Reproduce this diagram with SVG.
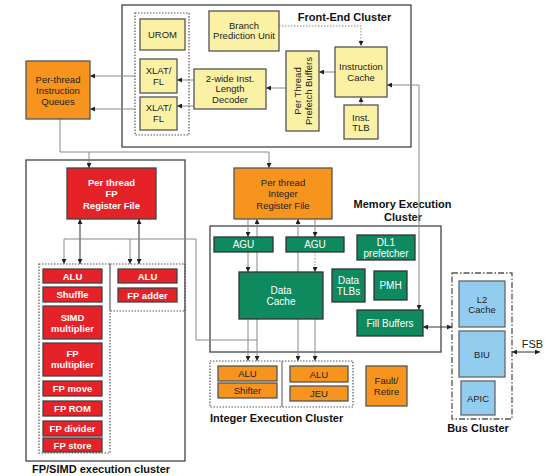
<svg xmlns="http://www.w3.org/2000/svg" width="550" height="476" viewBox="0 0 550 476">
<defs>
<marker id="ah" viewBox="0 0 6 6" refX="6" refY="3" markerWidth="5" markerHeight="5" markerUnits="userSpaceOnUse" orient="auto-start-reverse"><path d="M0,0 L6,3 L0,6 z" fill="#222"/></marker>
</defs>
<style>
text{font-family:"Liberation Sans",Arial,sans-serif;font-size:9.5px;text-anchor:middle;fill:#222}
.lbl{font-weight:bold;font-size:11px;fill:#111}
.y{fill:#faf1a5;stroke:#555;stroke-width:1.3}
.o{fill:#f7941d;stroke:#555;stroke-width:1.3}
.r{fill:#e62229;stroke:#444;stroke-width:1.3}
.g{fill:#0f8a5f;stroke:#333;stroke-width:1.3}
.b{fill:#92cdef;stroke:#666;stroke-width:1.3}
.wb{fill:#fff;font-weight:bold}
.w{fill:#fff;font-size:10px}
.frame{fill:none;stroke:#444;stroke-width:1.3}
.dot{fill:none;stroke:#555;stroke-width:1.2;stroke-dasharray:1.5,1.5}
.c{fill:none;stroke:#888;stroke-width:1}
.cd{fill:none;stroke:#333;stroke-width:1}
</style>

<g id="frames">
<rect class="frame" x="122" y="5" width="289" height="142"/>
<rect class="dot" x="135" y="13" width="54" height="122"/>
<rect class="frame" x="26" y="160" width="159" height="301" fill="#fff"/>
<rect class="frame" x="210" y="226" width="231" height="126"/>
<rect class="dot" x="39" y="264" width="71" height="189"/>
<rect class="dot" x="110" y="264" width="75" height="47"/>
<rect class="dot" x="210" y="361" width="143" height="46"/>
<line x1="282" y1="361" x2="282" y2="407" stroke="#555" stroke-width="1"/>
<rect x="452" y="273" width="60" height="146" fill="none" stroke="#555" stroke-width="1.3" stroke-dasharray="6,2,1.5,2"/>
<text class="lbl" x="344.5" y="21">Front-End Cluster</text>
<text class="lbl" x="402.5" y="208">Memory Execution</text>
<text class="lbl" x="403" y="221">Cluster</text>
<text class="lbl" x="210" y="422" style="text-anchor:start">Integer Execution Cluster</text>
<text class="lbl" x="32" y="473" style="text-anchor:start">FP/SIMD execution cluster</text>
<text class="lbl" x="478" y="432">Bus Cluster</text>
<text x="532.5" y="348" style="font-size:11px">FSB</text>
</g>

<g id="connectors">
<path class="c" d="M279,26 L361,26 L361,46" stroke-dasharray="1.5,1.5" marker-end="url(#ah)"/>
<path class="c" d="M361,105 L361,97" marker-end="url(#ah)"/>
<path class="c" d="M335,72 L319,72" marker-end="url(#ah)"/>
<path class="c" d="M286,88 L266,88" marker-end="url(#ah)"/>
<path class="c" d="M194,80 L177,80" marker-end="url(#ah)"/>
<path class="c" d="M194,106 L177,106" marker-end="url(#ah)"/>
<path class="c" d="M135,76 L90,76" marker-end="url(#ah)"/>
<path class="c" d="M135,109 L90,109" marker-end="url(#ah)"/>
<path class="c" d="M419,310 L419,85 L387,85" marker-start="url(#ah)" marker-end="url(#ah)"/>
<path class="c" d="M60,119 L60,152 L269,152 L269,168" marker-end="url(#ah)"/>
<path class="c" d="M89,152 L89,168" marker-end="url(#ah)"/>
<path class="cd" d="M80,219 L80,264" marker-start="url(#ah)" marker-end="url(#ah)"/>
<path class="cd" d="M139,219 L139,264" marker-start="url(#ah)" marker-end="url(#ah)"/>
<path class="c" d="M257,340 L196,340 L196,239 L64,239 L64,264" marker-end="url(#ah)"/>
<path class="c" d="M130,239 L130,264" marker-end="url(#ah)"/>
<path class="c" d="M248,219 L248,237" marker-end="url(#ah)"/>
<path class="c" d="M248,252 L248,272" marker-end="url(#ah)"/>
<path class="c" d="M248,319 L248,361" marker-end="url(#ah)"/>
<path class="c" d="M257,361 L257,219" marker-start="url(#ah)" marker-end="url(#ah)"/>
<path class="c" d="M298,361 L298,219" marker-start="url(#ah)" marker-end="url(#ah)"/>
<path class="c" d="M315,219 L315,237" marker-end="url(#ah)"/>
<path class="c" d="M315,252 L315,272" stroke-dasharray="1.5,1.5" marker-end="url(#ah)"/>
<path class="c" d="M315,319 L315,361" marker-end="url(#ah)"/>
<path class="cd" d="M423,327 L452,327" marker-start="url(#ah)" marker-end="url(#ah)"/>
<path class="cd" d="M512,352 L540,352" marker-start="url(#ah)" marker-end="url(#ah)"/>
</g>

<g id="urom"><rect class="y" x="140" y="19" width="45" height="31"/><text x="162.5" y="38">UROM</text></g>
<g id="xlat1"><rect class="y" x="140" y="59" width="37" height="34"/><text x="158.5" y="74">XLAT/</text><text x="158.5" y="85">FL</text></g>
<g id="xlat2"><rect class="y" x="140" y="97" width="37" height="33"/><text x="158.5" y="111">XLAT/</text><text x="158.5" y="122">FL</text></g>
<g id="bpu"><rect class="y" x="209" y="11" width="70" height="40"/><text x="244" y="28.5">Branch</text><text x="244" y="39">Prediction Unit</text></g>
<g id="decoder"><rect class="y" x="194" y="69" width="72" height="40"/><text x="230" y="81.5">2-wide Inst.</text><text x="230" y="92">Length</text><text x="230" y="102.5">Decoder</text></g>
<g id="prefetch"><rect class="y" x="286" y="51" width="33" height="80"/><g transform="translate(302.5,91) rotate(-90)"><text x="0" y="-2">Per Thread</text><text x="0" y="9">Prefetch Buffers</text></g></g>
<g id="icache"><rect class="y" x="335" y="47" width="52" height="50"/><text x="361" y="69.5">Instruction</text><text x="361" y="80.5">Cache</text></g>
<g id="itlb"><rect class="y" x="344" y="105" width="34" height="34"/><text x="361" y="120.5">Inst.</text><text x="361" y="131">TLB</text></g>
<g id="queues"><rect class="o" x="26" y="61" width="64" height="58"/><text x="58" y="82.5">Per-thread</text><text x="58" y="93.5">Instruction</text><text x="58" y="104.5">Queues</text></g>

<g id="fpreg"><rect class="r" x="67" y="168" width="89" height="51"/><text class="wb" x="111.5" y="186">Per thread</text><text class="wb" x="111.5" y="197">FP</text><text class="wb" x="111.5" y="209">Register File</text></g>
<g id="fpalu"><rect class="r" x="43" y="269" width="59" height="14"/><text class="wb" x="72.5" y="279.5">ALU</text></g>
<g id="shuffle"><rect class="r" x="43" y="287" width="59" height="15"/><text class="wb" x="72.5" y="298">Shuffle</text></g>
<g id="simd"><rect class="r" x="43" y="306" width="59" height="33"/><text class="wb" x="72.5" y="320.5">SIMD</text><text class="wb" x="72.5" y="331.5">multiplier</text></g>
<g id="fpmul"><rect class="r" x="43" y="343" width="59" height="33"/><text class="wb" x="72.5" y="356.5">FP</text><text class="wb" x="72.5" y="367.5">multiplier</text></g>
<g id="fpmove"><rect class="r" x="43" y="381" width="59" height="15"/><text class="wb" x="72.5" y="392">FP move</text></g>
<g id="fprom"><rect class="r" x="43" y="401" width="59" height="15"/><text class="wb" x="72.5" y="412">FP ROM</text></g>
<g id="fpdiv"><rect class="r" x="43" y="421" width="59" height="15"/><text class="wb" x="72.5" y="432">FP divider</text></g>
<g id="fpstore"><rect class="r" x="43" y="438" width="59" height="14"/><text class="wb" x="72.5" y="448.5">FP store</text></g>
<g id="fpalu2"><rect class="r" x="118" y="269" width="59" height="14"/><text class="wb" x="147.5" y="279.5">ALU</text></g>
<g id="fpadder"><rect class="r" x="118" y="288" width="59" height="14"/><text class="wb" x="147.5" y="298.5">FP adder</text></g>

<g id="intreg"><rect class="o" x="234" y="168" width="98" height="51"/><text x="283" y="186">Per thread</text><text x="283" y="197">Integer</text><text x="283" y="209">Register File</text></g>
<g id="agu1"><rect class="g" x="214" y="237" width="59" height="15"/><text class="w" x="243.5" y="248">AGU</text></g>
<g id="agu2"><rect class="g" x="286" y="237" width="58" height="15"/><text class="w" x="315" y="248">AGU</text></g>
<g id="dl1"><rect class="g" x="357" y="235" width="58" height="25"/><text class="w" x="386" y="245.5">DL1</text><text class="w" x="386" y="256.5">prefetcher</text></g>
<g id="dcache"><rect class="g" x="239" y="272" width="84" height="47"/><text class="w" x="281" y="293.5">Data</text><text class="w" x="281" y="304.5">Cache</text></g>
<g id="dtlb"><rect class="g" x="332" y="269" width="33" height="33"/><text class="w" x="348.5" y="283.5">Data</text><text class="w" x="348.5" y="294.5">TLBs</text></g>
<g id="pmh"><rect class="g" x="374" y="271" width="33" height="29"/><text class="w" x="390.5" y="289">PMH</text></g>
<g id="fill"><rect class="g" x="357" y="310" width="66" height="26"/><text class="w" x="390" y="326.5">Fill Buffers</text></g>

<g id="ialu1"><rect class="o" x="218" y="366" width="59" height="15"/><text x="247.5" y="377">ALU</text></g>
<g id="shifter"><rect class="o" x="218" y="383" width="59" height="15"/><text x="247.5" y="394">Shifter</text></g>
<g id="ialu2"><rect class="o" x="290" y="366" width="58" height="16"/><text x="319" y="377.5">ALU</text></g>
<g id="jeu"><rect class="o" x="290" y="386" width="58" height="15"/><text x="319" y="397">JEU</text></g>
<g id="fault"><rect class="o" x="366" y="366" width="41" height="40"/><text x="386.5" y="383.5">Fault/</text><text x="386.5" y="394.5">Retire</text></g>

<g id="l2"><rect class="b" x="459" y="281" width="46" height="46"/><text x="482" y="302.5">L2</text><text x="482" y="313">Cache</text></g>
<g id="biu"><rect class="b" x="459" y="331" width="46" height="46"/><text x="482" y="357.5">BIU</text></g>
<g id="apic"><rect class="b" x="461" y="381" width="34" height="34"/><text x="478" y="401.5">APIC</text></g>
</svg>
